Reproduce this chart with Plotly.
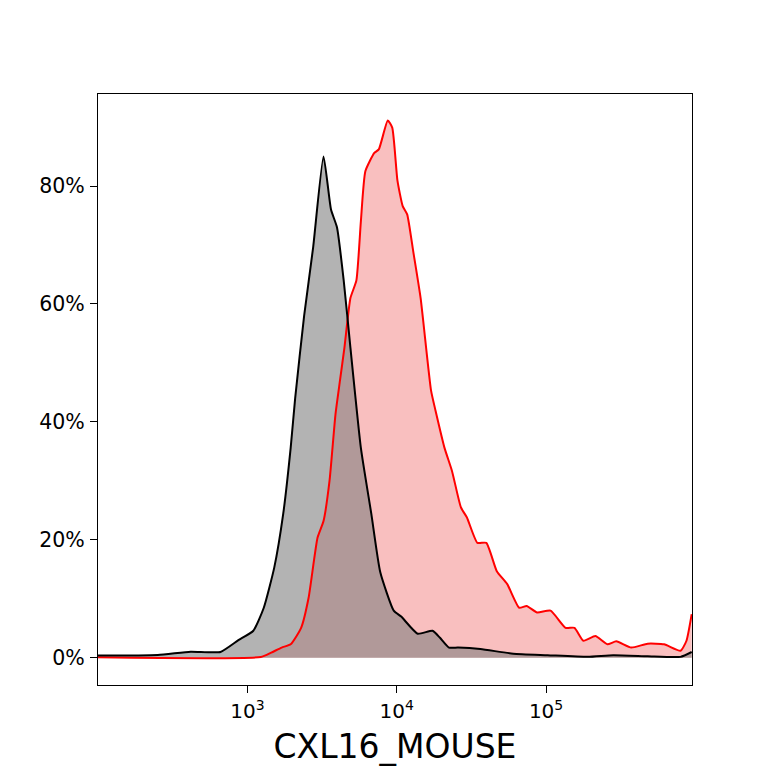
import numpy as np
import plotly.graph_objects as go

# log10 of the CXL16_MOUSE intensity, percentage of max
ctrl_log = [2.0, 2.4, 2.62, 2.82, 2.94, 3.04, 3.11, 3.18, 3.24, 3.29, 3.32, 3.38,
            3.44, 3.51, 3.56, 3.60, 3.645, 3.69, 3.76, 3.83, 3.89, 3.98, 4.03,
            4.14, 4.24, 4.29, 4.35, 4.41, 4.56, 4.78, 5.01, 5.28, 5.45, 5.68,
            5.90, 5.975]
ctrl_pct = [0.4, 0.5, 1.05, 1.0, 3.0, 4.6, 8.5, 15.3, 24.4, 35.6, 44, 58,
            69.5, 85, 76, 73, 64, 52.6, 35.6, 24.4, 14.5, 8, 7,
            4.1, 4.6, 3.4, 1.75, 1.75, 1.5, 0.7, 0.45, 0.17, 0.45, 0.28,
            0.17, 1.0]

sample_log = [2.0, 3.09, 3.16, 3.23, 3.29, 3.36, 3.41, 3.47, 3.51, 3.55, 3.59,
              3.62, 3.65, 3.69, 3.73, 3.76, 3.79, 3.85, 3.88, 3.94, 3.97, 4.005,
              4.04, 4.07, 4.11, 4.16, 4.23, 4.26, 4.32, 4.37, 4.43, 4.47, 4.54,
              4.60, 4.67, 4.74, 4.82, 4.87, 4.94, 5.03, 5.13, 5.19, 5.25, 5.33,
              5.41, 5.47, 5.57, 5.68, 5.79, 5.90, 5.94, 5.975]
sample_pct = [0.1, 0.15, 0.9, 1.75, 2.3, 5.1, 10.2, 20.4, 23.2, 30, 41.3,
              47, 52.6, 61, 64, 74, 82.5, 85.6, 86.2, 91.1, 89.9, 80.9,
              76.6, 75.2, 69, 61, 45.3, 41.9, 35.6, 31.7, 25.5, 23.8, 19.5,
              19.5, 14.7, 12.5, 8.5, 8.8, 7.7, 8, 5.1, 5.1, 2.9, 3.7,
              2.3, 2.8, 1.75, 2.4, 2.3, 1.2, 2.9, 7.4]

x_ticks = [1e3, 1e4, 1e5]
x_tick_text = ["10<sup>3</sup>", "10<sup>4</sup>", "10<sup>5</sup>"]
y_ticks = [0, 20, 40, 60, 80]
y_tick_text = ["0%", "20%", "40%", "60%", "80%"]

sample_x = 10 ** np.array(sample_log)
ctrl_x = 10 ** np.array(ctrl_log)
curve = dict(shape="spline", smoothing=0.5)

fig = go.Figure()
# fills first, then the outlines on top (red under black)
fig.add_trace(go.Scatter(x=sample_x, y=sample_pct, mode="lines",
                         line=dict(width=0, **curve), fill="tozeroy",
                         fillcolor="rgba(230,0,0,0.25)", showlegend=False))
fig.add_trace(go.Scatter(x=ctrl_x, y=ctrl_pct, mode="lines",
                         line=dict(width=0, **curve), fill="tozeroy",
                         fillcolor="rgba(128,128,128,0.6)", showlegend=False))
fig.add_trace(go.Scatter(x=sample_x, y=sample_pct, mode="lines",
                         line=dict(color="red", width=2, **curve), showlegend=False))
fig.add_trace(go.Scatter(x=ctrl_x, y=ctrl_pct, mode="lines",
                         line=dict(color="black", width=2, **curve), showlegend=False))

axis_style = dict(showline=True, linecolor="black", linewidth=1.3, mirror=True,
                  showgrid=False, zeroline=False, ticks="outside", ticklen=7,
                  tickcolor="black")
fig.update_xaxes(type="log", range=[2, 5.977], tickvals=x_ticks, ticktext=x_tick_text,
                 ticklabelstandoff=1, tickfont=dict(size=20, color="black"),
                 title=dict(text="CXL16_MOUSE", font=dict(size=33, color="black"),
                            standoff=12),
                 **axis_style)
fig.update_yaxes(range=[-4.6, 95.6], tickvals=y_ticks, ticktext=y_tick_text,
                 ticklabelstandoff=1, tickfont=dict(size=20.5, color="black"),
                 **axis_style)

fig.update_layout(width=768, height=768, plot_bgcolor="white", paper_bgcolor="white",
                  margin=dict(l=90, r=84, t=86, b=91),
                  font=dict(family="DejaVu Sans", color="black"))

fig.write_html("out.html")
